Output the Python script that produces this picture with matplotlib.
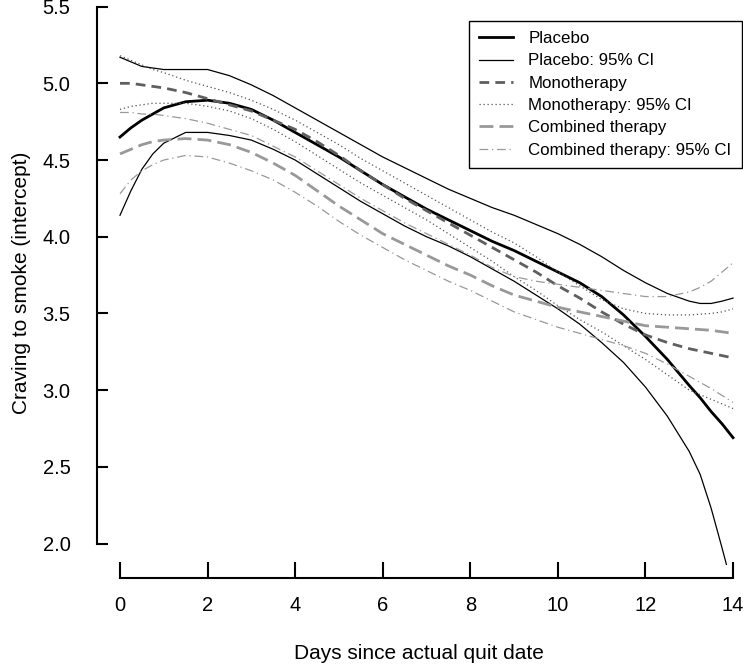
import matplotlib.pyplot as plt

plt.rcParams['font.family'] = ['Liberation Sans', 'DejaVu Sans']

days = [0, 0.25, 0.5, 0.75, 1, 1.5, 2, 2.5, 3, 3.5, 4, 4.5, 5, 5.5, 6, 6.5, 7, 7.5, 8, 8.5,
        9, 9.5, 10, 10.5, 11, 11.5, 12, 12.5, 13, 13.25, 13.5, 13.75, 14]

placebo = [4.65, 4.71, 4.76, 4.80, 4.84, 4.88, 4.89, 4.87, 4.83, 4.76, 4.68, 4.60, 4.52, 4.43,
           4.34, 4.26, 4.18, 4.11, 4.04, 3.97, 3.91, 3.84, 3.77, 3.70, 3.61, 3.49, 3.35, 3.20,
           3.03, 2.95, 2.86, 2.78, 2.69]
placebo_hi = [5.17, 5.14, 5.11, 5.10, 5.09, 5.09, 5.09, 5.05, 4.99, 4.92, 4.84, 4.76, 4.68, 4.60,
              4.52, 4.45, 4.38, 4.31, 4.25, 4.19, 4.14, 4.08, 4.02, 3.95, 3.87, 3.78, 3.70, 3.63,
              3.58, 3.565, 3.565, 3.58, 3.60]
placebo_lo = [4.14, 4.30, 4.44, 4.54, 4.61, 4.68, 4.68, 4.66, 4.63, 4.57, 4.50, 4.41, 4.32, 4.23,
              4.15, 4.07, 4.00, 3.94, 3.87, 3.79, 3.71, 3.62, 3.53, 3.43, 3.31, 3.18, 3.02, 2.83,
              2.60, 2.45, 2.23, 1.97, 1.70]

mono = [5.00, 5.00, 4.99, 4.98, 4.97, 4.94, 4.90, 4.86, 4.82, 4.76, 4.70, 4.62, 4.53, 4.43,
        4.34, 4.25, 4.17, 4.09, 4.01, 3.93, 3.85, 3.77, 3.68, 3.60, 3.51, 3.43, 3.36, 3.31,
        3.27, 3.255, 3.24, 3.225, 3.21]
mono_hi = [5.18, 5.15, 5.12, 5.09, 5.07, 5.02, 4.98, 4.94, 4.89, 4.83, 4.76, 4.68, 4.60, 4.51,
           4.43, 4.35, 4.27, 4.19, 4.11, 4.03, 3.96, 3.87, 3.77, 3.68, 3.59, 3.53, 3.50, 3.49,
           3.49, 3.495, 3.50, 3.51, 3.53]
mono_lo = [4.83, 4.85, 4.86, 4.87, 4.87, 4.87, 4.85, 4.82, 4.77, 4.70, 4.62, 4.53, 4.44, 4.35,
           4.27, 4.19, 4.11, 4.02, 3.93, 3.84, 3.74, 3.65, 3.55, 3.46, 3.38, 3.29, 3.20, 3.10,
           3.00, 2.97, 2.94, 2.91, 2.88]

comb = [4.54, 4.57, 4.60, 4.62, 4.63, 4.64, 4.63, 4.60, 4.55, 4.48, 4.40, 4.30, 4.20, 4.11,
        4.02, 3.95, 3.88, 3.81, 3.75, 3.68, 3.62, 3.58, 3.54, 3.51, 3.48, 3.45, 3.42, 3.41,
        3.40, 3.395, 3.39, 3.38, 3.37]
comb_hi = [4.81, 4.81, 4.80, 4.80, 4.79, 4.77, 4.74, 4.70, 4.66, 4.59, 4.52, 4.43, 4.34, 4.25,
           4.17, 4.09, 4.02, 3.95, 3.88, 3.80, 3.74, 3.71, 3.69, 3.67, 3.65, 3.63, 3.61, 3.61,
           3.64, 3.67, 3.71, 3.77, 3.83]
comb_lo = [4.28, 4.37, 4.43, 4.47, 4.50, 4.53, 4.52, 4.48, 4.43, 4.37, 4.29, 4.20, 4.10, 4.01,
           3.93, 3.85, 3.78, 3.71, 3.65, 3.58, 3.51, 3.46, 3.41, 3.37, 3.33, 3.29, 3.24, 3.17,
           3.09, 3.05, 3.01, 2.965, 2.92]

W, H = 743, 665
fig = plt.figure(figsize=(W / 100, H / 100), dpi=100)

# axes box in pixels (left, right, top, bottom)
left_px, right_px, top_px, bot_px = 97, 741.8, 0.5, 565
ax = fig.add_axes([left_px / W, 1 - bot_px / H, (right_px - left_px) / W, (bot_px - top_px) / H])

ax.plot(days, placebo, color='black', lw=2.0, label='Placebo')
ax.plot(days, placebo_hi, color='black', lw=0.9, label='Placebo: 95% CI')
ax.plot(days, placebo_lo, color='black', lw=0.9)
ax.plot(days, mono, color='#5f5f5f', lw=2.0, dashes=(3.5, 2.2), label='Monotherapy')
ax.plot(days, mono_hi, color='#555555', lw=0.9, dashes=(1, 2.2), label='Monotherapy: 95% CI')
ax.plot(days, mono_lo, color='#555555', lw=0.9, dashes=(1, 2.2))
ax.plot(days, comb, color='#999999', lw=2.0, dashes=(5, 2.2), label='Combined therapy')
ax.plot(days, comb_hi, color='#999999', lw=0.9, dashes=(7, 3, 1, 3), label='Combined therapy: 95% CI')
ax.plot(days, comb_lo, color='#999999', lw=0.9, dashes=(7, 3, 1, 3))

ax.set_xlim(-0.525, 14.2)
ax.set_ylim(1.86, 5.54)

for s in ['top', 'right']:
    ax.spines[s].set_visible(False)
ax.spines['left'].set_bounds(2.0, 5.5)
ax.spines['bottom'].set_bounds(0, 14)
ax.spines['bottom'].set_position(('outward', 9.4))
ax.spines['left'].set_linewidth(1.5)
ax.spines['bottom'].set_linewidth(1.5)

ax.set_xticks(range(0, 15, 2))
ax.set_yticks([2.0, 2.5, 3.0, 3.5, 4.0, 4.5, 5.0, 5.5])
ax.set_yticklabels(['2.0', '2.5', '3.0', '3.5', '4.0', '4.5', '5.0', '5.5'])
ax.tick_params(axis='x', direction='in', length=11.5, width=1.5, pad=13, labelsize=14.5)
ax.tick_params(axis='y', direction='in', length=8, width=1.5, pad=19, labelsize=14.5)

ax.set_xlabel('Days since actual quit date', fontsize=15, labelpad=20.5)
ax.set_ylabel('Craving to smoke (intercept)', fontsize=15, labelpad=8)

leg = ax.legend(loc='upper right', bbox_to_anchor=(741.5 / W, 1 - 21 / H),
                bbox_transform=fig.transFigure, borderaxespad=0, fontsize=12.2,
                fancybox=False, framealpha=1, edgecolor='black', handlelength=2.0,
                handletextpad=0.9, labelspacing=0.43, borderpad=0.6)
leg.get_frame().set_linewidth(1.0)

fig.savefig('out.png', dpi=100)
